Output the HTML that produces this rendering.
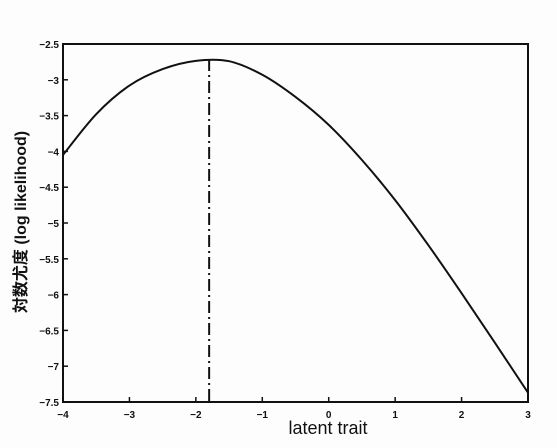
<!DOCTYPE html>
<html><head><meta charset="utf-8"><style>
body{margin:0;background:#fff;}
svg{display:block;font-family:"Liberation Sans","Noto Sans CJK JP",sans-serif;}
</style></head><body>
<svg id="chart" width="557" height="448" viewBox="0 0 557 448" xmlns="http://www.w3.org/2000/svg">
<rect x="0" y="0" width="557" height="448" fill="#fdfdfd"/>
<g id="axes"></g>
<path id="curve" fill="none" stroke="#111" stroke-width="2"/>
<line id="mle" stroke="#111" stroke-width="2" stroke-dasharray="12,4,2,4"/>
<text x="328" y="434" text-anchor="middle" font-size="18" fill="#111">latent trait</text>
<text transform="translate(26,222) rotate(-90)" text-anchor="middle" font-size="16" font-weight="bold" fill="#111">対数尤度 (log likelihood)</text>
</svg>
<script>
const xs = [-4,-3.5,-3,-2.5,-2,-1.5,-1,-0.5,0,0.5,1,1.5,2,2.5,3];
const ys = [-4.05,-3.48,-3.08,-2.85,-2.735,-2.74,-2.93,-3.24,-3.63,-4.12,-4.68,-5.31,-5.98,-6.67,-7.37];
const mleX = -1.8;
const mleY = -2.71;
const xTicks = [-4,-3,-2,-1,0,1,2,3];
const yTicks = [-2.5,-3,-3.5,-4,-4.5,-5,-5.5,-6,-6.5,-7,-7.5];
const X0=63,X1=528,Y0=44,Y1=402;
const sx=v=>X0+(v+4)/7*(X1-X0);
const sy=v=>Y0+(-2.5-v)/5*(Y1-Y0);
const NS="http://www.w3.org/2000/svg";
const ax=document.getElementById('axes');
function mk(t,a){const e=document.createElementNS(NS,t);for(const k in a)e.setAttribute(k,a[k]);ax.appendChild(e);return e;}
const fr=mk('rect',{x:X0,y:Y0,width:X1-X0,height:Y1-Y0,fill:'none',stroke:'#111','stroke-width':2});


xTicks.forEach(v=>{
 const l=mk('line',{x1:sx(v),x2:sx(v),y1:Y1,y2:Y1-5,stroke:'#111','stroke-width':1.5});
 
 
 const t=mk('text',{x:sx(v),y:Y1+16,'text-anchor':'middle','font-size':10,'font-weight':'bold',fill:'#111'});
 t.textContent=v<0?'\u2212'+(-v):v;
 
 
});
yTicks.forEach(v=>{
 const l=mk('line',{x1:X0,x2:X0+5,y1:sy(v),y2:sy(v),stroke:'#111','stroke-width':1.5});
 
 
 const t=mk('text',{x:X0-4,y:sy(v)+4,'text-anchor':'end','font-size':10,'font-weight':'bold',fill:'#111'});
 t.textContent='\u2212'+(-v);
 
 
});
const P=xs.map((x,i)=>[sx(x),sy(ys[i])]);
let d='M'+P[0][0]+','+P[0][1];
for(let i=0;i<P.length-1;i++){
 const p0=P[Math.max(0,i-1)],p1=P[i],p2=P[i+1],p3=P[Math.min(P.length-1,i+2)];
 const c1=[p1[0]+(p2[0]-p0[0])/6,p1[1]+(p2[1]-p0[1])/6];
 const c2=[p2[0]-(p3[0]-p1[0])/6,p2[1]-(p3[1]-p1[1])/6];
 d+=' C'+c1+' '+c2+' '+p2;
}
document.getElementById('curve').setAttribute('d',d);
const m=document.getElementById('mle');
m.setAttribute('x1',sx(mleX));m.setAttribute('x2',sx(mleX));
m.setAttribute('y1',sy(mleY));m.setAttribute('y2',Y1);
</script>
</body></html>
